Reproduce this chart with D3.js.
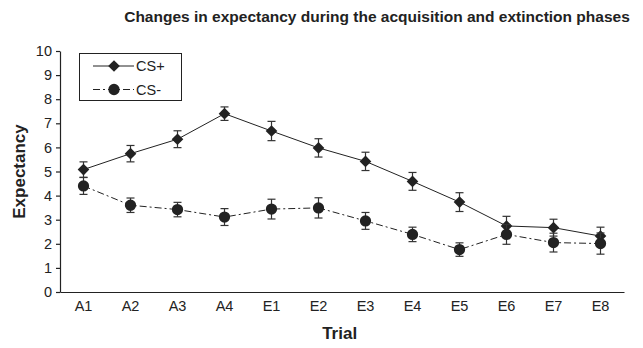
<!DOCTYPE html>
<html>
<head>
<meta charset="utf-8">
<script src="https://cdn.jsdelivr.net/npm/d3@7"></script>
<style>
  body { margin: 0; background: #fff; }
  text { font-family: "Liberation Sans", Arial, sans-serif; fill: #222; }
</style>
</head>
<body>
<div id="chart"></div>
<script>
// data
var trials = ["A1", "A2", "A3", "A4", "E1", "E2", "E3", "E4", "E5", "E6", "E7", "E8"];
var csPlus = [5.08, 5.74, 6.34, 7.4, 6.68, 5.98, 5.42, 4.59, 3.73, 2.74, 2.67, 2.32];
var csPlusErr = [0.32, 0.34, 0.35, 0.28, 0.4, 0.38, 0.38, 0.37, 0.39, 0.4, 0.35, 0.37];
var csMinus = [4.4, 3.6, 3.42, 3.11, 3.44, 3.49, 2.95, 2.39, 1.76, 2.39, 2.05, 2.01];
var csMinusErr = [0.35, 0.3, 0.3, 0.35, 0.41, 0.42, 0.35, 0.3, 0.28, 0.41, 0.39, 0.44];
var yTicks = [0, 1, 2, 3, 4, 5, 6, 7, 8, 9, 10];

var width = 643, height = 348;
var margin = {left: 60, right: 19, top: 51, bottom: 56};

var svg = d3.select("#chart")
  .append("svg")
  .attr("width", width)
  .attr("height", height);

var x = d3.scaleBand()
  .domain(trials)
  .range([margin.left, width - margin.right]);

var y = d3.scaleLinear()
  .domain([0, 10])
  .range([height - margin.bottom, margin.top]);

var ink = "#222";

// title
svg.append("text")
  .attr("x", 377)
  .attr("y", 22)
  .attr("text-anchor", "middle")
  .attr("font-size", "15.5px")
  .attr("font-weight", "bold")
  .text("Changes in expectancy during the acquisition and extinction phases");

// y axis
var yAxis = svg.append("g")
  .attr("transform", `translate(${margin.left},0)`)
  .call(d3.axisLeft(y).tickValues(yTicks).tickSize(4).tickPadding(4).tickSizeOuter(0));
yAxis.selectAll("text").attr("font-size", "14.5px");

// x axis (no tick marks)
var xAxis = svg.append("g")
  .attr("transform", `translate(0,${height - margin.bottom})`)
  .call(d3.axisBottom(x).tickSize(0).tickPadding(9).tickSizeOuter(0));
xAxis.selectAll("text").attr("font-size", "14.5px");

svg.selectAll(".domain, .tick line").attr("stroke", ink).attr("stroke-width", 1.2);
svg.selectAll(".tick text").attr("fill", ink).style("font-family", "Liberation Sans, Arial, sans-serif");

// axis titles
svg.append("text")
  .attr("transform", `translate(25,${y(5)}) rotate(-90)`)
  .attr("text-anchor", "middle")
  .attr("font-size", "17px")
  .attr("font-weight", "bold")
  .text("Expectancy");

svg.append("text")
  .attr("x", x("E2") + x.bandwidth() * 0.95)
  .attr("y", 339)
  .attr("text-anchor", "middle")
  .attr("font-size", "17px")
  .attr("font-weight", "bold")
  .text("Trial");

// diamond drawn as a square turned 45 degrees, like the original markers
var series = [
  {name: "CS+", values: csPlus, err: csPlusErr, dash: null, shape: d3.symbolSquare, size: 68, rot: 45},
  {name: "CS-", values: csMinus, err: csMinusErr, dash: "7,3,2,3", shape: d3.symbolCircle, size: 100, rot: 0}
];

var cx = function(i) { return x(trials[i]) + x.bandwidth() / 2; };

var line = d3.line()
  .x(function(d, i) { return cx(i); })
  .y(function(d) { return y(d); });

series.forEach(function(s) {
  svg.append("path")
    .datum(s.values)
    .attr("d", line)
    .attr("fill", "none")
    .attr("stroke", ink)
    .attr("stroke-width", 1)
    .attr("stroke-dasharray", s.dash);

  // error bars
  var eb = svg.append("g").attr("stroke", "#333").attr("stroke-width", 1.2);
  s.values.forEach(function(v, i) {
    var xx = cx(i), lo = y(v - s.err[i]), hi = y(v + s.err[i]);
    eb.append("line").attr("x1", xx).attr("x2", xx).attr("y1", lo).attr("y2", hi);
    eb.append("line").attr("x1", xx - 4).attr("x2", xx + 4).attr("y1", lo).attr("y2", lo);
    eb.append("line").attr("x1", xx - 4).attr("x2", xx + 4).attr("y1", hi).attr("y2", hi);
  });

  svg.selectAll(null)
    .data(s.values)
    .enter()
    .append("path")
    .attr("d", d3.symbol().type(s.shape).size(s.size))
    .attr("transform", function(d, i) { return `translate(${cx(i)},${y(d)}) rotate(${s.rot})`; })
    .attr("fill", ink);
});

// legend
var legend = svg.append("g");
legend.append("rect")
  .attr("x", 79.5).attr("y", 53.5)
  .attr("width", 102).attr("height", 47)
  .attr("fill", "#fff")
  .attr("stroke", ink)
  .attr("stroke-width", 1);

series.forEach(function(s, i) {
  var ly = 66 + i * 23.5;
  legend.append("line")
    .attr("x1", 93).attr("x2", 134)
    .attr("y1", ly).attr("y2", ly)
    .attr("stroke", ink)
    .attr("stroke-width", 1)
    .attr("stroke-dasharray", s.dash);
  legend.append("path")
    .attr("d", d3.symbol().type(s.shape).size(s.size))
    .attr("transform", `translate(114,${ly}) rotate(${s.rot})`)
    .attr("fill", ink);
  legend.append("text")
    .attr("x", 136)
    .attr("y", ly + 5)
    .attr("font-size", "14.5px")
    .text(s.name);
});
</script>
</body>
</html>
